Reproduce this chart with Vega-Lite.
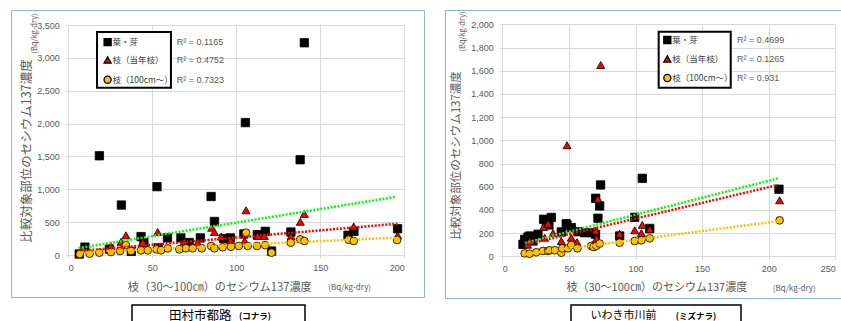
{
  "$schema": "https://vega.github.io/schema/vega-lite/v6.json",
  "padding": {"left": 10, "top": 9, "right": 0, "bottom": 0},
  "config": {
    "view": {"stroke": null},
    "font": "Noto Sans CJK JP",
    "axis": {"labelFont": "Liberation Sans", "labelFontSize": 9, "labelColor": "#595959", "titleColor": "#595959", "titleFont": "Noto Sans CJK JP", "titleFontWeight": "normal", "tickColor": "#d9d9d9", "gridColor": "#d9d9d9", "gridWidth": 1, "domain": false, "tickSize": 3},
    "text": {"font": "Noto Sans CJK JP"}
  },
  "resolve": {"scale": {"fill": "independent", "shape": "independent", "size": "independent", "stroke": "independent"}},
  "datasets": {
    "tamura_pts": [
      {"series": "葉・芽", "x": 6.5, "y": 15}, {"series": "葉・芽", "x": 9.9, "y": 120}, {"series": "葉・芽", "x": 18.5, "y": 1510}, {"series": "葉・芽", "x": 24.5, "y": 90}, {"series": "葉・芽", "x": 31.6, "y": 760}, {"series": "葉・芽", "x": 37.5, "y": 55}, {"series": "葉・芽", "x": 43.3, "y": 280}, {"series": "葉・芽", "x": 45, "y": 190}, {"series": "葉・芽", "x": 52.8, "y": 1040}, {"series": "葉・芽", "x": 53.5, "y": 110}, {"series": "葉・芽", "x": 59, "y": 260}, {"series": "葉・芽", "x": 67, "y": 260}, {"series": "葉・芽", "x": 72, "y": 190}, {"series": "葉・芽", "x": 78.6, "y": 260}, {"series": "葉・芽", "x": 85, "y": 890}, {"series": "葉・芽", "x": 87, "y": 510}, {"series": "葉・芽", "x": 92.5, "y": 250}, {"series": "葉・芽", "x": 96.5, "y": 260}, {"series": "葉・芽", "x": 104.5, "y": 320}, {"series": "葉・芽", "x": 105.4, "y": 2015}, {"series": "葉・芽", "x": 112.5, "y": 310}, {"series": "葉・芽", "x": 117.3, "y": 360}, {"series": "葉・芽", "x": 121, "y": 60}, {"series": "葉・芽", "x": 132.5, "y": 350}, {"series": "葉・芽", "x": 138, "y": 1450}, {"series": "葉・芽", "x": 140.5, "y": 3230}, {"series": "葉・芽", "x": 166.5, "y": 300}, {"series": "葉・芽", "x": 170, "y": 360}, {"series": "葉・芽", "x": 196, "y": 400},
      {"series": "枝（当年枝）", "x": 8.6, "y": 100}, {"series": "枝（当年枝）", "x": 25.4, "y": 137}, {"series": "枝（当年枝）", "x": 31.4, "y": 200}, {"series": "枝（当年枝）", "x": 34.3, "y": 300}, {"series": "枝（当年枝）", "x": 44.3, "y": 195}, {"series": "枝（当年枝）", "x": 53.2, "y": 350}, {"series": "枝（当年枝）", "x": 69, "y": 203}, {"series": "枝（当年枝）", "x": 77, "y": 188}, {"series": "枝（当年枝）", "x": 85.4, "y": 415}, {"series": "枝（当年枝）", "x": 87, "y": 350}, {"series": "枝（当年枝）", "x": 91, "y": 280}, {"series": "枝（当年枝）", "x": 96.6, "y": 220}, {"series": "枝（当年枝）", "x": 105, "y": 215}, {"series": "枝（当年枝）", "x": 105.8, "y": 680}, {"series": "枝（当年枝）", "x": 112.7, "y": 289}, {"series": "枝（当年枝）", "x": 116.7, "y": 289}, {"series": "枝（当年枝）", "x": 132.6, "y": 285}, {"series": "枝（当年枝）", "x": 138.1, "y": 505}, {"series": "枝（当年枝）", "x": 140.5, "y": 625}, {"series": "枝（当年枝）", "x": 166.7, "y": 274}, {"series": "枝（当年枝）", "x": 169.9, "y": 435}, {"series": "枝（当年枝）", "x": 196, "y": 300},
      {"series": "枝（100cm～）", "x": 6.8, "y": 15}, {"series": "枝（100cm～）", "x": 12.7, "y": 20}, {"series": "枝（100cm～）", "x": 18.5, "y": 35}, {"series": "枝（100cm～）", "x": 25.4, "y": 46}, {"series": "枝（100cm～）", "x": 30.8, "y": 61}, {"series": "枝（100cm～）", "x": 34.3, "y": 150}, {"series": "枝（100cm～）", "x": 37.3, "y": 61}, {"series": "枝（100cm～）", "x": 43.3, "y": 71}, {"series": "枝（100cm～）", "x": 47.3, "y": 71}, {"series": "枝（100cm～）", "x": 52.5, "y": 86}, {"series": "枝（100cm～）", "x": 55.2, "y": 71}, {"series": "枝（100cm～）", "x": 59.2, "y": 100}, {"series": "枝（100cm～）", "x": 66.1, "y": 86}, {"series": "枝（100cm～）", "x": 70, "y": 102}, {"series": "枝（100cm～）", "x": 74, "y": 102}, {"series": "枝（100cm～）", "x": 79.4, "y": 102}, {"series": "枝（100cm～）", "x": 85, "y": 137}, {"series": "枝（100cm～）", "x": 87, "y": 102}, {"series": "枝（100cm～）", "x": 91.9, "y": 118}, {"series": "枝（100cm～）", "x": 96.8, "y": 125}, {"series": "枝（100cm～）", "x": 101.5, "y": 137}, {"series": "枝（100cm～）", "x": 105.8, "y": 340}, {"series": "枝（100cm～）", "x": 106.8, "y": 137}, {"series": "枝（100cm～）", "x": 112.3, "y": 137}, {"series": "枝（100cm～）", "x": 117.2, "y": 150}, {"series": "枝（100cm～）", "x": 121, "y": 35}, {"series": "枝（100cm～）", "x": 132.4, "y": 188}, {"series": "枝（100cm～）", "x": 138.1, "y": 238}, {"series": "枝（100cm～）", "x": 140.5, "y": 213}, {"series": "枝（100cm～）", "x": 166.9, "y": 233}, {"series": "枝（100cm～）", "x": 169.9, "y": 213}, {"series": "枝（100cm～）", "x": 195.7, "y": 228}
    ],
    "tamura_fit": [
      {"fit": "葉・芽", "x": 6, "y": 105}, {"fit": "葉・芽", "x": 195, "y": 885},
      {"fit": "枝（当年枝）", "x": 6, "y": 60}, {"fit": "枝（当年枝）", "x": 196, "y": 476},
      {"fit": "枝（100cm～）", "x": 6, "y": 40}, {"fit": "枝（100cm～）", "x": 196, "y": 265}
    ],
    "tamura_key": [
      {"series": "葉・芽", "r2": "R² = 0.1165", "x": 64.5, "y": 3240},
      {"series": "枝（当年枝）", "r2": "R² = 0.4752", "x": 64.5, "y": 2968},
      {"series": "枝（100cm～）", "r2": "R² = 0.7323", "x": 64.5, "y": 2668}
    ],
    "iwaki_pts": [
      {"series": "葉・芽", "x": 15.5, "y": 103}, {"series": "葉・芽", "x": 16.8, "y": 146}, {"series": "葉・芽", "x": 19.3, "y": 166}, {"series": "葉・芽", "x": 20.5, "y": 175}, {"series": "葉・芽", "x": 23, "y": 132}, {"series": "葉・芽", "x": 26.8, "y": 190}, {"series": "葉・芽", "x": 31, "y": 319}, {"series": "葉・芽", "x": 33, "y": 276}, {"series": "葉・芽", "x": 35, "y": 270}, {"series": "葉・芽", "x": 36.8, "y": 335}, {"series": "葉・芽", "x": 44.3, "y": 210}, {"series": "葉・芽", "x": 48, "y": 281}, {"series": "葉・芽", "x": 48.6, "y": 270}, {"series": "葉・芽", "x": 51.8, "y": 247}, {"series": "葉・芽", "x": 56.8, "y": 212}, {"series": "葉・芽", "x": 61.9, "y": 203}, {"series": "葉・芽", "x": 68.1, "y": 203}, {"series": "葉・芽", "x": 70, "y": 190}, {"series": "葉・芽", "x": 70.1, "y": 500}, {"series": "葉・芽", "x": 71.8, "y": 328}, {"series": "葉・芽", "x": 73.1, "y": 434}, {"series": "葉・芽", "x": 73.8, "y": 615}, {"series": "葉・芽", "x": 88.1, "y": 175}, {"series": "葉・芽", "x": 99.4, "y": 336}, {"series": "葉・芽", "x": 105.1, "y": 672}, {"series": "葉・芽", "x": 110.7, "y": 240}, {"series": "葉・芽", "x": 207.7, "y": 578},
      {"series": "枝（当年枝）", "x": 19, "y": 100}, {"series": "枝（当年枝）", "x": 20.5, "y": 132}, {"series": "枝（当年枝）", "x": 31, "y": 253}, {"series": "枝（当年枝）", "x": 31.8, "y": 160}, {"series": "枝（当年枝）", "x": 34.3, "y": 281}, {"series": "枝（当年枝）", "x": 38.1, "y": 200}, {"series": "枝（当年枝）", "x": 44.3, "y": 132}, {"series": "枝（当年枝）", "x": 48.6, "y": 957}, {"series": "枝（当年枝）", "x": 51.8, "y": 160}, {"series": "枝（当年枝）", "x": 56.1, "y": 122}, {"series": "枝（当年枝）", "x": 70.1, "y": 222}, {"series": "枝（当年枝）", "x": 70.8, "y": 155}, {"series": "枝（当年枝）", "x": 71.8, "y": 495}, {"series": "枝（当年枝）", "x": 73.9, "y": 1649}, {"series": "枝（当年枝）", "x": 88.1, "y": 195}, {"series": "枝（当年枝）", "x": 99.4, "y": 224}, {"series": "枝（当年枝）", "x": 104.4, "y": 200}, {"series": "枝（当年枝）", "x": 105.1, "y": 270}, {"series": "枝（当年枝）", "x": 110.7, "y": 233}, {"series": "枝（当年枝）", "x": 208.2, "y": 483},
      {"series": "枝（100cm～）", "x": 16.8, "y": 25}, {"series": "枝（100cm～）", "x": 20.5, "y": 22}, {"series": "枝（100cm～）", "x": 25.5, "y": 35}, {"series": "枝（100cm～）", "x": 30.5, "y": 46}, {"series": "枝（100cm～）", "x": 34.3, "y": 46}, {"series": "枝（100cm～）", "x": 35.6, "y": 52}, {"series": "枝（100cm～）", "x": 39.4, "y": 52}, {"series": "枝（100cm～）", "x": 44.3, "y": 31}, {"series": "枝（100cm～）", "x": 45, "y": 69}, {"series": "枝（100cm～）", "x": 49.3, "y": 69}, {"series": "枝（100cm～）", "x": 51.8, "y": 97}, {"series": "枝（100cm～）", "x": 56.4, "y": 69}, {"series": "枝（100cm～）", "x": 66.8, "y": 89}, {"series": "枝（100cm～）", "x": 68.5, "y": 80}, {"series": "枝（100cm～）", "x": 70.6, "y": 90}, {"series": "枝（100cm～）", "x": 73.1, "y": 110}, {"series": "枝（100cm～）", "x": 88.1, "y": 117}, {"series": "枝（100cm～）", "x": 99.4, "y": 132}, {"series": "枝（100cm～）", "x": 104.4, "y": 138}, {"series": "枝（100cm～）", "x": 110.7, "y": 155}, {"series": "枝（100cm～）", "x": 208.2, "y": 310}
    ],
    "iwaki_fit": [
      {"fit": "葉・芽", "x": 17, "y": 115}, {"fit": "葉・芽", "x": 207, "y": 672},
      {"fit": "枝（当年枝）", "x": 17, "y": 100}, {"fit": "枝（当年枝）", "x": 207, "y": 615},
      {"fit": "枝（100cm～）", "x": 17, "y": 20}, {"fit": "枝（100cm～）", "x": 207, "y": 302}
    ],
    "iwaki_key": [
      {"series": "葉・芽", "r2": "R² = 0.4699", "x": 176.2, "y": 1865},
      {"series": "枝（当年枝）", "r2": "R² = 0.1265", "x": 176.2, "y": 1701},
      {"series": "枝（100cm～）", "r2": "R² = 0.931", "x": 176.2, "y": 1537}
    ],
    "one": [{}],
    "tamura_title": [{"k": "a", "t": "田村市都路"}, {"k": "b", "t": "(コナラ)"}],
    "iwaki_title": [{"k": "a", "t": "いわき市川前"}, {"k": "b", "t": "(ミズナラ)"}],
    "blank": [{"t": ""}]
  },
  "spacing": 19,
  "hconcat": [
    {
      "spacing": 6,
      "vconcat": [
        {
          "width": 413, "height": 287,
          "view": {"stroke": "#8EB4E3", "strokeWidth": 1},
          "resolve": {"axis": {"x": "independent", "y": "independent"}},
          "layer": [
            {
              "data": {"name": "tamura_pts"},
              "mark": {"type": "point", "filled": true, "opacity": 1, "stroke": "#000000", "strokeWidth": 0.8},
              "encoding": {
                "x": {"field": "x", "type": "quantitative", "scale": {"domain": [0, 200], "range": [57.3, 393.3], "nice": false, "zero": false},
                  "axis": {"orient": "bottom", "offset": -42, "grid": false, "values": [0, 50, 100, 150, 200], "labelPadding": 5, "title": "枝（30～100㎝）のセシウム137濃度", "titleFontSize": 11.2, "titleX": 208.3, "titleY": 32, "titleAlign": "center", "titleAnchor": "middle", "titleBaseline": "middle"}},
                "y": {"field": "y", "type": "quantitative", "scale": {"domain": [0, 3500], "range": [245, 15], "nice": false, "zero": false},
                  "axis": {"orient": "left", "offset": -57.3, "grid": true, "values": [0, 500, 1000, 1500, 2000, 2500, 3000, 3500], "format": ",d", "labelPadding": 6, "title": "比較対象部位のセシウム137濃度", "titleFontSize": 12.5, "titleX": -42.3, "titleY": 140.5, "titleAngle": 270, "titleAlign": "center", "titleBaseline": "middle"}},
                "fill": {"field": "series", "type": "nominal", "scale": {"domain": ["葉・芽", "枝（当年枝）", "枝（100cm～）"], "range": ["#000000", "#FF0000", "#FFC000"]}, "legend": null},
                "shape": {"field": "series", "type": "nominal", "scale": {"domain": ["葉・芽", "枝（当年枝）", "枝（100cm～）"], "range": ["square", "triangle-up", "circle"]}, "legend": null},
                "size": {"field": "series", "type": "nominal", "scale": {"domain": ["葉・芽", "枝（当年枝）", "枝（100cm～）"], "range": [70, 60, 52]}, "legend": null}
              }
            },
            {
              "data": {"name": "tamura_fit"},
              "mark": {"type": "line", "strokeWidth": 2.5, "strokeDash": [2, 1.5]},
              "encoding": {
                "x": {"field": "x", "type": "quantitative", "axis": {"orient": "top", "grid": true, "values": [0, 50, 100, 150, 200], "labels": false, "ticks": false, "domain": false, "title": null}},
                "y": {"field": "y", "type": "quantitative", "axis": {"orient": "left", "offset": -57.3, "grid": false, "labels": false, "ticks": false, "domain": false, "title": "(Bq/kg-dry)", "titleFontSize": 7.5, "titleX": -33.8, "titleY": 23, "titleAngle": 270, "titleAlign": "center", "titleBaseline": "middle"}},
                "stroke": {"field": "fit", "type": "nominal", "scale": {"domain": ["葉・芽", "枝（当年枝）", "枝（100cm～）"], "range": ["#00FF00", "#FF0000", "#FFC000"]}, "legend": null}
              }
            },
            {
              "data": {"name": "tamura_key"},
              "mark": {"type": "text", "align": "left", "baseline": "middle", "fontSize": 9, "color": "#595959", "font": "Liberation Sans"},
              "encoding": {
                "x": {"field": "x", "type": "quantitative", "axis": {"orient": "bottom", "offset": -42, "grid": false, "labels": false, "ticks": false, "domain": false, "title": "(Bq/kg-dry)", "titleFontSize": 8, "titleX": 316.7, "titleY": 32.7, "titleAlign": "left", "titleAnchor": "start", "titleBaseline": "middle"}},
                "y": {"field": "y", "type": "quantitative", "axis": null},
                "text": {"field": "r2"}
              }
            },
            {
              "data": {"name": "one"},
              "mark": {"type": "rect", "fill": "#ffffff", "stroke": "#000000", "strokeWidth": 2},
              "encoding": {
                "x": {"datum": 17.1, "type": "quantitative", "axis": null},
                "x2": {"datum": 61.1},
                "y": {"datum": 3394, "type": "quantitative", "axis": null},
                "y2": {"datum": 2546}
              }
            },
            {
              "data": {"name": "tamura_key"},
              "mark": {"type": "point", "filled": true, "opacity": 1, "stroke": "#000000", "strokeWidth": 1.3, "size": 50},
              "encoding": {
                "x": {"datum": 23.4, "type": "quantitative", "axis": null},
                "y": {"field": "y", "type": "quantitative", "axis": null},
                "fill": {"field": "series", "type": "nominal", "legend": null},
                "shape": {"field": "series", "type": "nominal", "legend": null}
              }
            },
            {
              "data": {"name": "tamura_key"},
              "mark": {"type": "text", "align": "left", "baseline": "middle", "fontSize": 8.5, "color": "#404040"},
              "encoding": {
                "x": {"datum": 26.3, "type": "quantitative", "axis": null},
                "y": {"field": "y", "type": "quantitative", "axis": null},
                "text": {"field": "series"}
              }
            }
          ]
        },
        {
          "spacing": 0,
          "hconcat": [
            {"width": 120, "height": 22, "data": {"name": "blank"}, "mark": {"type": "text"}, "encoding": {"text": {"field": "t"}}},
            {
              "width": 173, "height": 22,
              "view": {"stroke": "#000000", "strokeWidth": 1.5},
              "data": {"name": "tamura_title"},
              "layer": [
                {
                  "transform": [{"filter": "datum.k === 'a'"}],
                  "mark": {"type": "text", "align": "center", "baseline": "middle", "color": "#000000", "fontSize": 12.5},
                  "encoding": {
                    "x": {"field": "k", "type": "nominal", "scale": {"type": "point", "domain": ["a", "b"], "range": [68.3, 123], "padding": 0}, "axis": null},
                    "text": {"field": "t"}
                  }
                },
                {
                  "transform": [{"filter": "datum.k === 'b'"}],
                  "mark": {"type": "text", "align": "center", "baseline": "middle", "color": "#000000", "fontSize": 8.5, "fontWeight": "bold"},
                  "encoding": {
                    "x": {"field": "k", "type": "nominal", "scale": {"type": "point", "domain": ["a", "b"], "range": [68.3, 123], "padding": 0}, "axis": null},
                    "text": {"field": "t"}
                  }
                }
              ]
            }
          ]
        }
      ]
    },
    {
      "spacing": 5,
      "vconcat": [
        {
          "width": 398, "height": 288,
          "view": {"stroke": "#8EB4E3", "strokeWidth": 1},
          "resolve": {"axis": {"x": "independent", "y": "independent"}},
          "layer": [
            {
              "data": {"name": "iwaki_pts"},
              "mark": {"type": "point", "filled": true, "opacity": 1, "stroke": "#000000", "strokeWidth": 0.8},
              "encoding": {
                "x": {"field": "x", "type": "quantitative", "scale": {"domain": [0, 250], "range": [57.3, 390.3], "nice": false, "zero": false},
                  "axis": {"orient": "bottom", "offset": -41.7, "grid": false, "values": [0, 50, 100, 150, 200, 250], "labelPadding": 5, "title": "枝（30～100㎝）のセシウム137濃度", "titleFontSize": 11, "titleX": 211.3, "titleY": 31.4, "titleAlign": "center", "titleAnchor": "middle", "titleBaseline": "middle"}},
                "y": {"field": "y", "type": "quantitative", "scale": {"domain": [0, 2000], "range": [246.3, 14.3], "nice": false, "zero": false},
                  "axis": {"orient": "left", "offset": -57.3, "grid": true, "values": [0, 200, 400, 600, 800, 1000, 1200, 1400, 1600, 1800, 2000], "format": ",d", "labelPadding": 6, "title": "比較対象部位のセシウム137濃度", "titleFontSize": 11.5, "titleX": -46.3, "titleY": 145, "titleAngle": 270, "titleAlign": "center", "titleBaseline": "middle"}},
                "fill": {"field": "series", "type": "nominal", "scale": {"domain": ["葉・芽", "枝（当年枝）", "枝（100cm～）"], "range": ["#000000", "#FF0000", "#FFC000"]}, "legend": null},
                "shape": {"field": "series", "type": "nominal", "scale": {"domain": ["葉・芽", "枝（当年枝）", "枝（100cm～）"], "range": ["square", "triangle-up", "circle"]}, "legend": null},
                "size": {"field": "series", "type": "nominal", "scale": {"domain": ["葉・芽", "枝（当年枝）", "枝（100cm～）"], "range": [70, 60, 52]}, "legend": null}
              }
            },
            {
              "data": {"name": "iwaki_fit"},
              "mark": {"type": "line", "strokeWidth": 2.5, "strokeDash": [2, 1.5]},
              "encoding": {
                "x": {"field": "x", "type": "quantitative", "axis": {"orient": "top", "grid": true, "values": [0, 50, 100, 150, 200, 250], "labels": false, "ticks": false, "domain": false, "title": null}},
                "y": {"field": "y", "type": "quantitative", "axis": {"orient": "left", "offset": -57.3, "grid": false, "labels": false, "ticks": false, "domain": false, "title": "(Bq/kg-dry)", "titleFontSize": 7.5, "titleX": -40.1, "titleY": 21, "titleAngle": 270, "titleAlign": "center", "titleBaseline": "middle"}},
                "stroke": {"field": "fit", "type": "nominal", "scale": {"domain": ["葉・芽", "枝（当年枝）", "枝（100cm～）"], "range": ["#00FF00", "#FF0000", "#FFC000"]}, "legend": null}
              }
            },
            {
              "data": {"name": "iwaki_key"},
              "mark": {"type": "text", "align": "left", "baseline": "middle", "fontSize": 9, "color": "#595959", "font": "Liberation Sans"},
              "encoding": {
                "x": {"field": "x", "type": "quantitative", "axis": {"orient": "bottom", "offset": -41.7, "grid": false, "labels": false, "ticks": false, "domain": false, "title": "(Bq/kg-dry)", "titleFontSize": 8, "titleX": 327.3, "titleY": 32, "titleAlign": "left", "titleAnchor": "start", "titleBaseline": "middle"}},
                "y": {"field": "y", "type": "quantitative", "axis": null},
                "text": {"field": "r2"}
              }
            },
            {
              "data": {"name": "one"},
              "mark": {"type": "rect", "fill": "#ffffff", "stroke": "#000000", "strokeWidth": 2},
              "encoding": {
                "x": {"datum": 117.4, "type": "quantitative", "axis": null},
                "x2": {"datum": 171.5},
                "y": {"datum": 1936, "type": "quantitative", "axis": null},
                "y2": {"datum": 1453}
              }
            },
            {
              "data": {"name": "iwaki_key"},
              "mark": {"type": "point", "filled": true, "opacity": 1, "stroke": "#000000", "strokeWidth": 1.3, "size": 50},
              "encoding": {
                "x": {"datum": 123.9, "type": "quantitative", "axis": null},
                "y": {"field": "y", "type": "quantitative", "axis": null},
                "fill": {"field": "series", "type": "nominal", "legend": null},
                "shape": {"field": "series", "type": "nominal", "legend": null}
              }
            },
            {
              "data": {"name": "iwaki_key"},
              "mark": {"type": "text", "align": "left", "baseline": "middle", "fontSize": 8.5, "color": "#404040"},
              "encoding": {
                "x": {"datum": 127.6, "type": "quantitative", "axis": null},
                "y": {"field": "y", "type": "quantitative", "axis": null},
                "text": {"field": "series"}
              }
            }
          ]
        },
        {
          "spacing": 0,
          "hconcat": [
            {"width": 124.7, "height": 22, "data": {"name": "blank"}, "mark": {"type": "text"}, "encoding": {"text": {"field": "t"}}},
            {
              "width": 170, "height": 22,
              "view": {"stroke": "#000000", "strokeWidth": 1.5},
              "data": {"name": "iwaki_title"},
              "layer": [
                {
                  "transform": [{"filter": "datum.k === 'a'"}],
                  "mark": {"type": "text", "align": "center", "baseline": "middle", "color": "#000000", "fontSize": 11},
                  "encoding": {
                    "x": {"field": "k", "type": "nominal", "scale": {"type": "point", "domain": ["a", "b"], "range": [52.5, 125], "padding": 0}, "axis": null},
                    "text": {"field": "t"}
                  }
                },
                {
                  "transform": [{"filter": "datum.k === 'b'"}],
                  "mark": {"type": "text", "align": "center", "baseline": "middle", "color": "#000000", "fontSize": 8.5, "fontWeight": "bold"},
                  "encoding": {
                    "x": {"field": "k", "type": "nominal", "scale": {"type": "point", "domain": ["a", "b"], "range": [52.5, 125], "padding": 0}, "axis": null},
                    "text": {"field": "t"}
                  }
                }
              ]
            }
          ]
        }
      ]
    }
  ]
}
